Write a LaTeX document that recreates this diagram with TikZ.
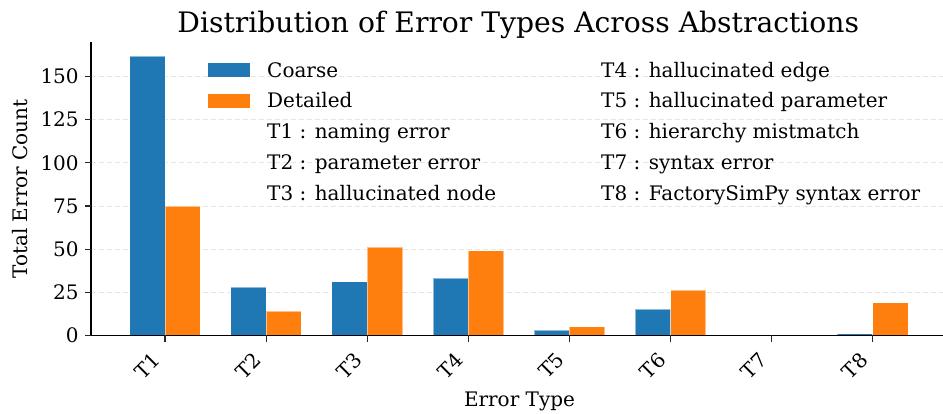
\documentclass[tikz,border=0pt]{standalone}
\usepackage{fontspec}
\setmainfont{DejaVu Serif}
\newfontfamily\chartfont{DejaVu Serif}
\definecolor{cblue}{HTML}{1F77B4}
\definecolor{corange}{HTML}{FF7F0E}
\definecolor{gridc}{HTML}{E6E6E6}
\tikzset{
  barc/.style={fill=cblue, draw=white, draw opacity=0.5, line width=0.8pt},
  bard/.style={fill=corange, draw=white, draw opacity=0.5, line width=0.8pt},
  gridline/.style={draw=gridc, line width=0.8pt, dash pattern=on 5pt off 3pt},
  spine/.style={draw=black, line width=1.4pt},
  tickmark/.style={draw=black!85, line width=1.1pt},
  ticklab/.style={font=\chartfont\fontsize{20}{24}\selectfont, inner sep=0pt},
  leglab/.style={font=\chartfont\fontsize{20}{24}\selectfont, inner sep=0pt, anchor=base west},
}
\begin{document}
\begin{tikzpicture}[x=1pt,y=1pt]
\useasboundingbox (0,0) rectangle (943,413);
\node[font=\chartfont\fontsize{28.2}{32}\selectfont, inner sep=0pt, anchor=base] (title) at (518.3,380.7) {Distribution of Error Types Across Abstractions};
\begin{scope}[shift={(165,77.7)}, x=101.1pt, y=1.724pt]
  % grid
  \foreach \v in {25,50,...,150} {
    \draw[gridline] (-0.733,\v) -- (7.695,\v);
  }
  % bars
  \foreach \i/\c/\d in {0/162/75, 1/28/14, 2/31/51, 3/33/49, 4/3/5, 5/15/26, 7/1/19} {
    \path[barc] (\i-0.35,0) rectangle (\i,\c);
    \path[bard] (\i,0) rectangle (\i+0.35,\d);
  }
  % axes
  \coordinate (o) at (-0.733,0);
  \coordinate (ytop) at (-0.733,170.1);
  \coordinate (xend) at (7.695,0);
  \draw[spine] (ytop) -- (o) -- (xend);
  % y ticks
  \foreach \v in {0,25,...,150} {
    \draw[tickmark] (-0.733,\v) -- ++(-6pt,0);
    \node[ticklab, anchor=base east] (yl\v) at ([xshift=-12pt,yshift=-7.2pt]-0.733,\v) {\v};
  }
  % x ticks
  \foreach \i [evaluate=\i as \n using int(\i+1)] in {0,...,7} {
    \draw[tickmark] (\i,0) -- ++(0,-7pt);
    \node[ticklab, anchor=east, rotate=45] (xl\n) at ([xshift=-8.5pt,yshift=-21pt]\i,0) {T\n};
  }
\end{scope}
\node[font=\chartfont\fontsize{20}{24}\selectfont, inner sep=0pt, anchor=base] (xlabel) at (519.5,6.3) {Error Type};
\node[font=\chartfont\fontsize{20}{24}\selectfont, inner sep=0pt, rotate=90] (ylabel) at (20,224) {Total Error Count};
% legend
\path[fill=cblue] (208,336) rectangle (250,350);
\path[fill=corange] (208,305) rectangle (250,319);
\node[leglab] (l1) at (267,335.7) {Coarse};
\node[leglab] (l2) at (267,305.0) {Detailed};
\node[leglab] (l3) at (267,274.3) {T1 : naming error};
\node[leglab] (l4) at (267,243.6) {T2 : parameter error};
\node[leglab] (l5) at (267,212.9) {T3 : hallucinated node};
\node[leglab] (r1) at (601,335.7) {T4 : hallucinated edge};
\node[leglab] (r2) at (601,305.0) {T5 : hallucinated parameter};
\node[leglab] (r3) at (601,274.3) {T6 : hierarchy mistmatch};
\node[leglab] (r4) at (601,243.6) {T7 : syntax error};
\node[leglab] (r5) at (601,212.9) {T8 : FactorySimPy syntax error};
\end{tikzpicture}
\end{document}
